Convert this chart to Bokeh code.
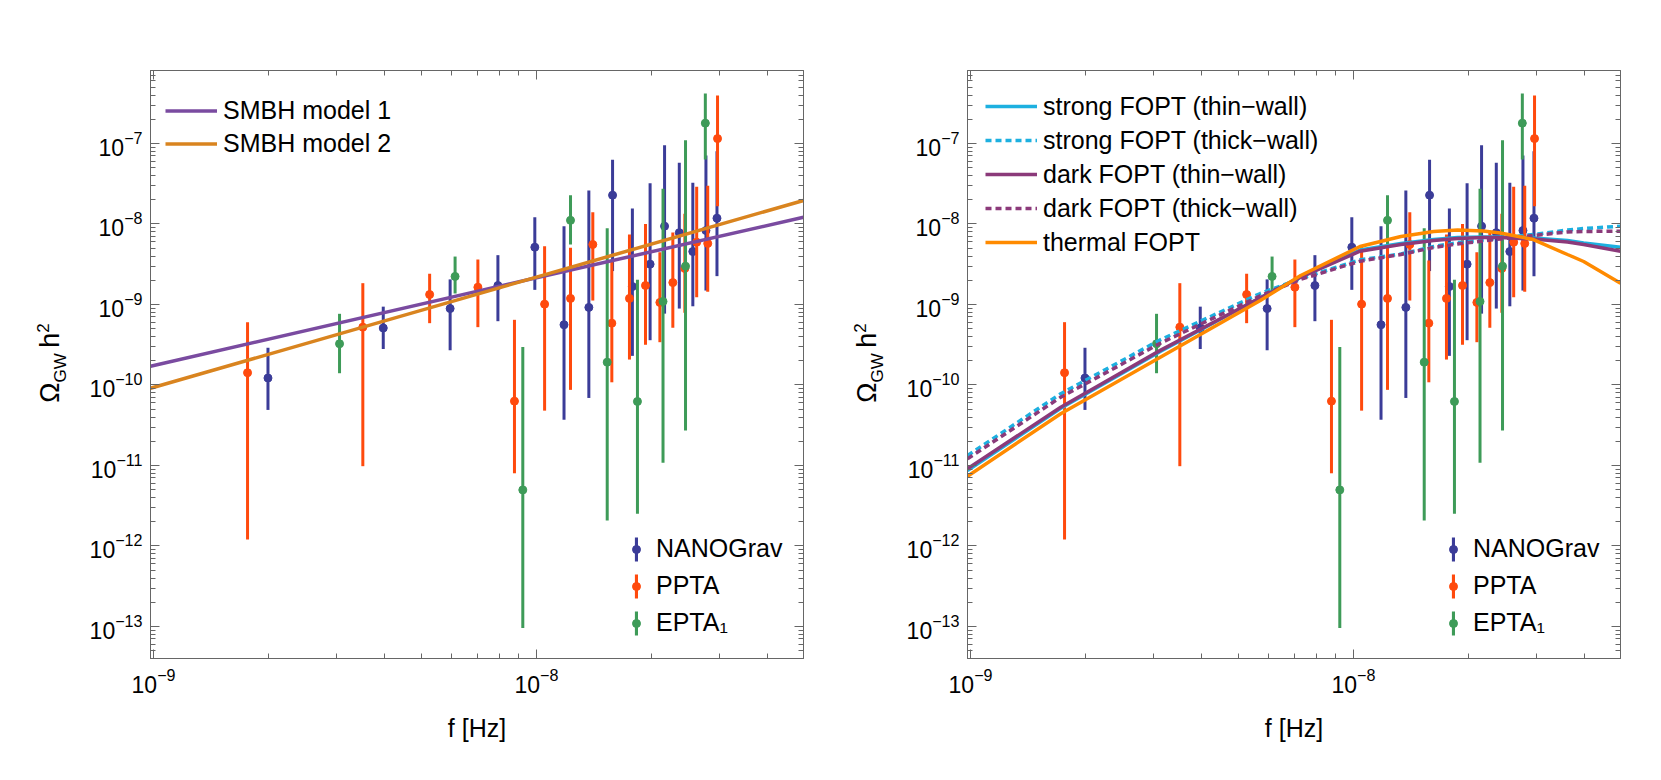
from bokeh.plotting import figure
from bokeh.models import (FixedTicker, LogAxis, Legend, LegendItem, Range1d, Div,
                          CustomJSTickFormatter)
from bokeh.layouts import row
from bokeh.embed import file_html
from bokeh.resources import INLINE

# ---------------- data ----------------
ng_f  = [1.99e-9, 3.98e-9, 5.95e-9, 7.93e-9, 9.90e-9, 1.18e-8, 1.37e-8, 1.58e-8,
         1.78e-8, 1.98e-8, 2.16e-8, 2.36e-8, 2.56e-8, 2.77e-8, 2.96e-8]
ng_om = [1.22e-10, 5.1e-10, 8.9e-10, 1.72e-9, 5.15e-9, 5.6e-10, 9.2e-10, 2.28e-8,
         1.67e-9, 3.17e-9, 9.4e-9, 7.8e-9, 4.55e-9, 8.3e-9, 1.18e-8]
ng_lo = [4.9e-11, 2.8e-10, 2.7e-10, 6.2e-10, 1.52e-9, 3.7e-11, 6.9e-11, 2.6e-9,
         2.3e-10, 3.6e-10, 7.7e-10, 8.9e-10, 9.5e-10, 1.49e-9, 2.25e-9]
ng_hi = [2.9e-10, 9.4e-10, 2.05e-9, 4.1e-9, 1.21e-8, 9.4e-9, 2.6e-8, 6.3e-8,
         1.56e-8, 3.2e-8, 9.5e-8, 5.75e-8, 3.25e-8, 7.1e-8, 8.0e-8]

pp_f  = [1.76e-9, 3.52e-9, 5.26e-9, 7.03e-9, 8.76e-9, 1.05e-8, 1.227e-8, 1.403e-8,
         1.573e-8, 1.749e-8, 1.926e-8, 2.10e-8, 2.27e-8, 2.44e-8, 2.62e-8, 2.80e-8, 2.97e-8]
pp_om = [1.42e-10, 5.23e-10, 1.33e-9, 1.64e-9, 6.3e-11, 1.01e-9, 1.19e-9, 5.56e-9,
         5.86e-10, 1.19e-9, 1.72e-9, 1.06e-9, 1.87e-9, 2.80e-9, 5.94e-9, 5.73e-9, 1.15e-7]
pp_lo = [1.2e-12, 9.8e-12, 5.86e-10, 5.23e-10, 8.0e-12, 4.8e-11, 8.7e-11, 1.12e-9,
         1.08e-10, 2.07e-10, 3.16e-10, 3.4e-10, 5.14e-10, 7.89e-10, 1.23e-9, 1.44e-9, 1.66e-8]
pp_hi = [6.03e-10, 1.84e-9, 2.41e-9, 3.62e-9, 6.45e-10, 5.3e-9, 5.06e-9, 1.40e-8,
         3.52e-9, 7.41e-9, 1.0e-8, 4.47e-9, 7.84e-9, 1.34e-8, 2.90e-8, 2.98e-8, 3.94e-7]

ep_f  = [3.06e-9, 6.13e-9, 9.21e-9, 1.227e-8, 1.53e-8, 1.835e-8, 2.14e-8, 2.45e-8, 2.76e-8]
ep_om = [3.25e-10, 2.23e-9, 4.97e-12, 1.11e-8, 1.92e-10, 6.24e-11, 1.09e-9, 2.99e-9, 1.79e-7]
ep_lo = [1.40e-10, 1.37e-9, 9.6e-14, 5.56e-9, 2.07e-12, 2.51e-12, 1.08e-11, 2.72e-11, 6.33e-8]
ep_hi = [7.66e-10, 3.94e-9, 2.96e-10, 2.28e-8, 8.87e-9, 2.03e-9, 2.74e-8, 1.1e-7, 4.18e-7]

smbh_f   = [9.82e-10, 1.0e-8, 4.98e-8]
smbh1_om = [1.71e-10, 2.15e-9, 1.21e-8]
smbh2_om = [9.1e-11, 2.19e-9, 1.96e-8]

fopt_f = [9.82e-10, 1.72e-9, 3.13e-9, 5.71e-9, 7.28e-9, 1.04e-8, 1.33e-8, 1.62e-8,
          1.87e-8, 2.18e-8, 2.42e-8, 2.95e-8, 3.62e-8, 3.99e-8, 4.98e-8]
strong_thin  = [8.67e-12, 5.13e-11, 2.61e-10, 1.21e-9, 2.20e-9, 4.75e-9, 5.73e-9, 6.41e-9,
                6.79e-9, 6.90e-9, 6.90e-9, 6.70e-9, 6.24e-9, 5.81e-9, 5.15e-9]
strong_thick = [1.33e-11, 7.78e-11, 3.64e-10, 1.37e-9, 2.10e-9, 3.59e-9, 4.24e-9, 5.25e-9,
                5.89e-9, 6.32e-9, 6.70e-9, 7.41e-9, 8.41e-9, 8.79e-9, 9.40e-9]
dark_thin    = [9.10e-12, 5.30e-11, 2.69e-10, 1.21e-9, 2.18e-9, 4.59e-9, 5.56e-9, 6.24e-9,
                6.61e-9, 6.79e-9, 6.79e-9, 6.52e-9, 5.97e-9, 5.56e-9, 4.59e-9]
dark_thick   = [1.21e-11, 7.05e-11, 3.30e-10, 1.28e-9, 2.05e-9, 3.45e-9, 4.18e-9, 5.11e-9,
                5.65e-9, 6.15e-9, 6.52e-9, 7.19e-9, 7.96e-9, 8.07e-9, 8.15e-9]
thermal      = [7.36e-12, 4.39e-11, 2.21e-10, 1.12e-9, 2.29e-9, 5.25e-9, 7.0e-9, 8.07e-9,
                8.41e-9, 8.18e-9, 7.73e-9, 6.41e-9, 4.18e-9, 3.42e-9, 1.84e-9]

x_major = [1e-9, 1e-8]
x_minor = [2e-9, 3e-9, 4e-9, 5e-9, 6e-9, 7e-9, 8e-9, 9e-9, 2e-8, 3e-8, 4e-8]
y_major = [1e-13, 1e-12, 1e-11, 1e-10, 1e-9, 1e-8, 1e-7]
y_minor = [m * d for d in [1e-14, 1e-13, 1e-12, 1e-11, 1e-10, 1e-9, 1e-8, 1e-7]
           for m in [2, 3, 4, 5, 6, 7, 8, 9]]

# ---------------- styles ----------------
FONT = "Liberation Sans"
FRAME = "#666666"
C_NG, C_PP, C_EP = "#3B3C98", "#FF4A0D", "#3E9B58"
C_S1, C_S2 = "#7A4BA0", "#D9841F"
C_STRONG, C_DARK, C_THERM = "#1DB0E0", "#8B3A7A", "#FF8A00"
DIV_W = 72
FIG_H = 768


def style_axis(ax, xdir, labels):
    if xdir:
        ax.ticker = FixedTicker(ticks=x_major, minor_ticks=x_minor)
    else:
        ax.ticker = FixedTicker(ticks=y_major, minor_ticks=y_minor)
    ax.axis_line_color = FRAME
    ax.major_tick_line_color = FRAME
    ax.minor_tick_line_color = FRAME
    ax.major_tick_in = 9
    ax.major_tick_out = 0
    ax.minor_tick_in = 5
    ax.minor_tick_out = 0
    ax.major_label_text_font = FONT
    ax.major_label_text_color = "black"
    if labels:
        ax.major_label_text_font_size = "23px"
        ax.major_label_standoff = 9 if xdir else 8
    else:
        ax.formatter = CustomJSTickFormatter(code="return ' '")
        ax.major_label_text_font_size = "2px"
        ax.major_label_text_alpha = 0
        ax.major_label_standoff = 0


def ylabel_div():
    html = ('<div style="position:relative;width:%dpx;height:%dpx;">'
            '<div style="position:absolute;left:52px;top:363px;'
            'transform:translate(-50%%,-50%%) rotate(-90deg);white-space:nowrap;'
            "font-family:'Liberation Sans';font-size:27px;color:black;line-height:1;\">"
            '\u03a9<sub style="font-size:17px;">GW</sub>&#8201;h<sup style="font-size:17px;">2</sup>'
            '</div></div>') % (DIV_W, FIG_H)
    return Div(text=html, width=DIV_W, height=FIG_H, margin=0)


def legend_kw():
    return dict(spacing=0, padding=0, margin=0, label_text_font=FONT,
                label_text_color="black", border_line_color=None,
                background_fill_alpha=0, inactive_fill_alpha=0)


def make_fig(right_border):
    p = figure(frame_width=653, frame_height=588,
               x_axis_type="log", y_axis_type="log",
               x_range=Range1d(9.82e-10, 4.98e-8), y_range=Range1d(4.0e-14, 8.07e-7),
               output_backend="svg", toolbar_location=None,
               min_border_left=150 - DIV_W, min_border_right=right_border,
               min_border_top=70, min_border_bottom=FIG_H - 70 - 588)
    p.grid.visible = False
    p.outline_line_color = FRAME
    p.background_fill_color = "white"
    p.border_fill_color = "white"
    xb = p.xaxis[0]
    yl = p.yaxis[0]
    style_axis(xb, True, True)
    style_axis(yl, False, True)
    xb.axis_label = "f [Hz]"
    xb.axis_label_text_font = FONT
    xb.axis_label_text_font_size = "25px"
    xb.axis_label_text_font_style = "normal"
    xb.axis_label_text_color = "black"
    xb.axis_label_standoff = 18
    top = LogAxis()
    style_axis(top, True, False)
    p.add_layout(top, "above")
    rgt = LogAxis()
    style_axis(rgt, False, False)
    p.add_layout(rgt, "right")

    # data points with error bars
    groups = [("NANOGrav", ng_f, ng_om, ng_lo, ng_hi, C_NG),
              ("PPTA", pp_f, pp_om, pp_lo, pp_hi, C_PP),
              ("EPTA\u2081", ep_f, ep_om, ep_lo, ep_hi, C_EP)]
    dot_items, bar_items = [], []
    for name, f, om, lo, hi, c in groups:
        p.segment(x0=f, y0=lo, x1=f, y1=hi, line_color=c, line_width=3)
        dot = p.scatter(x=f, y=om, size=8, fill_color=c, line_color=c)
        bar = p.vbar(x=f, bottom=lo, top=hi, width=0, fill_color=c, line_color=None,
                     visible=False)
        dot_items.append(LegendItem(label=name, renderers=[dot]))
        bar_items.append(LegendItem(label=" ", renderers=[bar]))
    # vertical bar part of the legend symbols (3 px wide, 24 px tall)
    leg_b = Legend(items=bar_items, location=(484, 17), glyph_width=4, glyph_height=30,
                   label_height=37, label_standoff=0, label_text_font_size="1px",
                   **legend_kw())
    p.add_layout(leg_b)
    # dots + names
    leg_d = Legend(items=dot_items, location=(476, 17), glyph_width=20, glyph_height=30,
                   label_height=37, label_standoff=10, label_text_font_size="25px",
                   **legend_kw())
    p.add_layout(leg_d)
    return p


# ---------------- left panel ----------------
p1 = make_fig(14)
l1 = p1.line(smbh_f, smbh1_om, line_color=C_S1, line_width=3.5)
l2 = p1.line(smbh_f, smbh2_om, line_color=C_S2, line_width=3.5)
leg1 = Legend(items=[LegendItem(label="SMBH model 1", renderers=[l1]),
                     LegendItem(label="SMBH model 2", renderers=[l2])],
              location=(15, 498), glyph_width=52, glyph_height=33, label_height=33,
              label_standoff=6, label_text_font_size="25px", **legend_kw())
p1.add_layout(leg1)

# ---------------- right panel ----------------
p2 = make_fig(30)
curves = [("strong FOPT (thin\u2212wall)", strong_thin, C_STRONG, "solid"),
          ("strong FOPT (thick\u2212wall)", strong_thick, C_STRONG, "6 4"),
          ("dark FOPT (thin\u2212wall)", dark_thin, C_DARK, "solid"),
          ("dark FOPT (thick\u2212wall)", dark_thick, C_DARK, "6 4"),
          ("thermal FOPT", thermal, C_THERM, "solid")]
its = []
for name, om, c, dash in curves:
    r = p2.line(fopt_f, om, line_color=c, line_width=3.5, line_dash=dash)
    its.append(LegendItem(label=name, renderers=[r]))
leg2 = Legend(items=its, location=(18, 399), glyph_width=52, glyph_height=34, label_height=34,
              label_standoff=6, label_text_font_size="25px", **legend_kw())
p2.add_layout(leg2)

layout = row(ylabel_div(), p1, ylabel_div(), p2)
open("out.html", "w").write(file_html(layout, INLINE))
